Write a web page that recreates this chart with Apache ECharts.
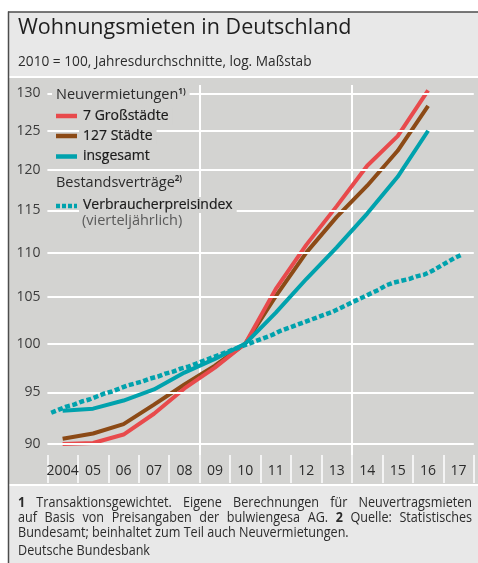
<!DOCTYPE html>
<html>
<head>
<meta charset="utf-8">
<script src="https://cdn.jsdelivr.net/npm/echarts@6/dist/echarts.min.js"></script>
<style>
  html, body { margin: 0; padding: 0; background: #fff; }
  #chart { width: 478px; height: 563px; }
</style>
</head>
<body>
<div id="chart"></div>
<script>
// annual averages, 2010 = 100
const years = [2004, 2005, 2006, 2007, 2008, 2009, 2010, 2011, 2012, 2013, 2014, 2015, 2016]
const grossstaedte = [90.0, 90.1, 90.9, 92.9, 95.4, 97.5, 100, 105.9, 110.9, 115.5, 120.5, 124.3, 130.4]
const staedte127 = [90.5, 91.0, 91.9, 93.8, 95.8, 97.7, 100, 105.1, 110.0, 114.2, 118.0, 122.4, 128.3]
const insgesamt = [93.2, 93.4, 94.2, 95.3, 97.0, 98.4, 100, 103.3, 107.0, 110.6, 114.6, 119.1, 125.0]

// consumer price index for rents, quarterly from 2004 Q1
const cpiStartYear = 2004
const cpiQuarterly = [
  93.0, 93.3, 93.6, 93.8,
  94.1, 94.3, 94.6, 94.9,
  95.1, 95.4, 95.7, 95.9,
  96.1, 96.4, 96.6, 96.9,
  97.1, 97.4, 97.6, 97.9,
  98.2, 98.5, 98.8, 99.1,
  99.4, 99.7, 100.0, 100.3,
  100.6, 100.9, 101.3, 101.6,
  101.9, 102.2, 102.5, 102.8,
  103.1, 103.4, 103.8, 104.2,
  104.6, 105.0, 105.4, 105.8,
  106.3, 106.6, 106.8, 107.0,
  107.3, 107.5, 107.9, 108.4,
  108.9, 109.4, 109.8
]

const xLabels = ['2004', '05', '06', '07', '08', '09', '10', '11', '12', '13', '14', '15', '16', '17']
const yTicks = [90, 95, 100, 105, 110, 115, 120, 125, 130]

const RED = '#e84a4c'
const BROWN = '#8c4a16'
const TEAL = '#00a2ad'
const PLOT_BG = '#d3d3d1'
const PANEL_BG = '#e8e8e8'
const TEXT = '#2b2b2b'
const FONT = '"Open Sans", "Noto Sans", sans-serif'

const chart = echarts.init(document.getElementById('chart'), null, { renderer: 'canvas' })

// footnotes: the print font is narrower, so squeeze the text a bit
const FOOT_SIZE = 14
const FOOT_SCALE = 0.9

// footnote lines are justified like in the print version
const measureCtx = document.createElement('canvas').getContext('2d')
function justifiedLine(words, y, left, right) {
  const items = words.map(w => (typeof w === 'string' ? { t: w, bold: false } : w))
  const widths = items.map(w => {
    measureCtx.font = `${w.bold ? 'bold' : 'normal'} ${FOOT_SIZE}px ${FONT}`
    return measureCtx.measureText(w.t).width * FOOT_SCALE
  })
  const total = widths.reduce((a, b) => a + b, 0)
  const gap = (right - left - total) / (items.length - 1)
  let x = left
  return items.map((w, i) => {
    const el = footText(w.t, x, y, w.bold)
    x += widths[i] + gap
    return el
  })
}

function footText(text, x, y, bold) {
  return {
    type: 'text', x: x, y: y, z: 20, scaleX: FOOT_SCALE,
    style: {
      text: text, fill: TEXT, fontSize: FOOT_SIZE, fontFamily: FONT,
      fontWeight: bold ? 'bold' : 'normal', verticalAlign: 'middle'
    }
  }
}

function plainText(text, x, y, size, extra) {
  return {
    type: 'text', x: x, y: y, z: 20,
    style: Object.assign({
      text: text, fill: TEXT, fontSize: size, fontFamily: FONT, verticalAlign: 'middle'
    }, extra || {})
  }
}

function legendText(text, x, y, extra) {
  return {
    type: 'text', x: x, y: y, z: 20,
    style: Object.assign({
      text: text, fill: TEXT, fontSize: 14.5, fontFamily: FONT, verticalAlign: 'middle',
      backgroundColor: PLOT_BG, padding: [1, 4, 1, 4],
      rich: { sup: { fontSize: 8, fontWeight: 'bold', fill: TEXT, fontFamily: FONT, verticalAlign: 'top' } }
    }, extra || {})
  }
}

// series names in the legend are set a little heavier
const entryStyle = { fontSize: 14, fill: '#1a1a1a', stroke: '#1a1a1a', lineWidth: 0.2 }

function swatch(color, y, dashed) {
  return {
    type: 'line', z: 21,
    shape: { x1: 56, y1: y, x2: 77, y2: y },
    style: { stroke: color, lineWidth: 4.5, lineDash: dashed ? [4, 2] : null }
  }
}

const graphic = [
  // panels and frame
  { type: 'rect', z: -100, shape: { x: 9, y: 12, width: 469, height: 64 }, style: { fill: PANEL_BG } },
  { type: 'rect', z: -100, shape: { x: 9, y: 78, width: 469, height: 406 }, style: { fill: PLOT_BG } },
  { type: 'rect', z: -100, shape: { x: 9, y: 486, width: 469, height: 77 }, style: { fill: PANEL_BG } },
  { type: 'line', z: -99, shape: { x1: 8.5, y1: 11.5, x2: 8.5, y2: 563 }, style: { stroke: '#4d4d4d', lineWidth: 1.5 } },
  { type: 'line', z: -99, shape: { x1: 8, y1: 12, x2: 478, y2: 12 }, style: { stroke: '#4d4d4d', lineWidth: 1.5 } },

  // title
  plainText('Wohnungsmieten in Deutschland', 18, 28, 21.5, { fill: '#1e1e1e' }),
  plainText('2010 = 100, Jahresdurchschnitte, log. Maßstab', 18, 62, 13.7),

  // legend
  legendText('Neuvermietungen{sup|1)}', 52, 95),
  swatch(RED, 116),
  legendText('7 Großstädte', 79, 116.5, entryStyle),
  swatch(BROWN, 136),
  legendText('127 Städte', 79, 136.5, entryStyle),
  swatch(TEAL, 156.5),
  legendText('insgesamt', 79, 156.5, entryStyle),
  legendText('Bestandsverträge{sup|2)}', 52, 182.5),
  swatch(TEAL, 206, true),
  legendText('Verbraucherpreisindex', 79, 205, entryStyle),
  legendText('(vierteljährlich)', 78, 221, { fill: '#5a5a5a' }),

  // footnotes
  ...justifiedLine([{ t: '1', bold: true }, 'Transaktionsgewichtet.', 'Eigene', 'Berechnungen', 'für', 'Neuvertragsmieten'], 503, 18, 472),
  ...justifiedLine(['auf', 'Basis', 'von', 'Preisangaben', 'der', 'bulwiengesa', 'AG.', { t: '2', bold: true }, 'Quelle:', 'Statistisches'], 518.5, 18, 472),
  footText('Bundesamt; beinhaltet zum Teil auch Neuvermietungen.', 18, 533.5),
  footText('Deutsche Bundesbank', 18, 551)
]

function lineSeries(name, values, color, z) {
  return {
    name: name,
    type: 'line',
    data: years.map((y, i) => [y + 0.5, values[i]]),
    showSymbol: false,
    silent: true,
    z: z,
    lineStyle: { color: color, width: 4, cap: 'butt' },
    itemStyle: { color: color }
  }
}

const option = {
  animation: false,
  backgroundColor: '#fff',
  graphic: graphic,
  grid: {
    left: 47.4,
    right: 4.2,
    top: 85,
    bottom: 108,
    outerBoundsMode: 'none'
  },
  xAxis: [
    {
      type: 'value',
      min: 2004,
      max: 2018,
      interval: 5,
      axisLine: { show: false },
      axisTick: { show: false },
      axisLabel: { show: false },
      splitLine: {
        show: true,
        showMinLine: false,
        showMaxLine: false,
        lineStyle: { color: '#fff', width: 2 }
      }
    },
    {
      type: 'category',
      position: 'bottom',
      data: xLabels,
      boundaryGap: true,
      axisLine: { show: false },
      axisTick: {
        show: true,
        length: 28,
        interval: 0,
        lineStyle: { color: '#fff', width: 1.5 }
      },
      axisLabel: { color: TEXT, fontSize: 14, fontFamily: FONT, margin: 9, interval: 0 },
      splitLine: { show: false }
    }
  ],
  yAxis: {
    type: 'log',
    min: 88.97,
    max: 131.14,
    axisLine: { show: false },
    axisTick: { show: false },
    axisLabel: { show: false },
    splitLine: { show: false }
  },
  series: [
    {
      // horizontal grid lines with their labels
      type: 'line',
      data: [],
      z: 1,
      silent: true,
      markLine: {
        silent: true,
        symbol: 'none',
        animation: false,
        emphasis: { disabled: true },
        lineStyle: { color: '#fff', width: 2, type: 'solid' },
        label: {
          position: 'start',
          distance: 7,
          color: '#3c3c3c',
          fontSize: 14,
          fontFamily: FONT,
          formatter: (p) => String(p.value)
        },
        data: yTicks.map(v => ({ yAxis: v }))
      }
    },
    lineSeries('127 Städte', staedte127, BROWN, 3),
    lineSeries('7 Großstädte', grossstaedte, RED, 4),
    lineSeries('insgesamt', insgesamt, TEAL, 5),
    {
      name: 'Verbraucherpreisindex',
      type: 'line',
      data: cpiQuarterly.map((v, i) => [cpiStartYear + (i + 0.5) / 4, v]),
      showSymbol: false,
      silent: true,
      z: 6,
      lineStyle: { color: TEAL, width: 4.5, type: [5, 2.5], cap: 'butt' },
      itemStyle: { color: TEAL }
    }
  ]
}

chart.setOption(option)
</script>
</body>
</html>
